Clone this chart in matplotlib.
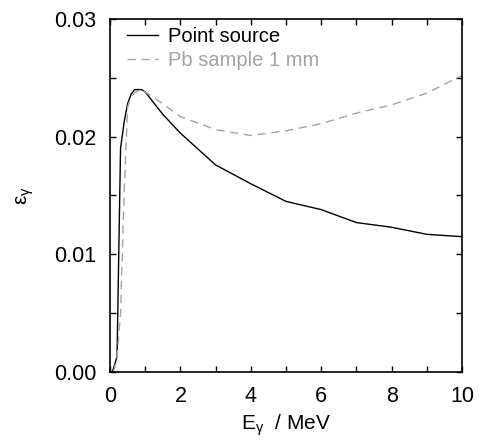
import matplotlib
matplotlib.use('Agg')
import matplotlib.pyplot as plt
from matplotlib.ticker import MultipleLocator

plt.rcParams['font.family'] = ['Liberation Sans', 'DejaVu Sans']
plt.rcParams['mathtext.fontset'] = 'custom'
plt.rcParams['mathtext.rm'] = 'Liberation Sans'
plt.rcParams['mathtext.it'] = 'Liberation Sans'

# Point source (black)
e_point = [0.06, 0.1, 0.2, 0.3, 0.4, 0.5, 0.6, 0.7, 0.8, 0.9, 1.0, 1.5, 2, 3, 4, 5, 6, 7, 8, 9, 10]
eff_point = [0.0, 0.0003, 0.0013, 0.0190, 0.0212, 0.0228, 0.0236, 0.0240, 0.0240, 0.0240, 0.0238,
             0.0219, 0.0203, 0.0176, 0.0160, 0.0145, 0.0138, 0.0127, 0.0123, 0.0117, 0.0115]

# Pb sample 1 mm (grey dashed)
e_pb = [0.1, 0.2, 0.3, 0.4, 0.5, 0.6, 0.7, 0.8, 0.9, 1.0, 1.5, 2, 3, 4, 5, 6, 7, 8, 9, 10]
eff_pb = [0.0, 0.0012, 0.0050, 0.0150, 0.0225, 0.0234, 0.0237, 0.0239, 0.0240, 0.0238,
          0.0228, 0.0217, 0.0206, 0.0201, 0.0205, 0.0211, 0.0220, 0.0227, 0.0237, 0.0252]

fig = plt.figure(figsize=(4.83, 4.43), dpi=100)
ax = fig.add_axes([0.2277, 0.1603, 0.7288, 0.7968])

ax.plot(e_point, eff_point, color='black', lw=1.0, label='Point source')
ax.plot(e_pb, eff_pb, color='#a3a3a3', lw=1.0, ls=(0, (6, 4)), label='Pb sample 1 mm')

ax.set_xlim(0, 10)
ax.set_ylim(0, 0.03)
ax.xaxis.set_major_locator(MultipleLocator(2))
ax.xaxis.set_minor_locator(MultipleLocator(1))
ax.yaxis.set_major_locator(MultipleLocator(0.01))
ax.yaxis.set_minor_locator(MultipleLocator(0.005))
ax.yaxis.set_major_formatter(plt.FormatStrFormatter('%.2f'))
ax.tick_params(which='both', direction='in', top=True, right=True, length=4, width=1)
ax.tick_params(which='major', labelsize=15.5, pad=10)
for s in ax.spines.values():
    s.set_linewidth(1.2)

ax.set_xlabel(r'E$_\gamma$  / MeV', fontsize=15, labelpad=4)
ax.set_ylabel(r'$\varepsilon_\gamma$', fontsize=15, labelpad=13)

ax.legend(loc='upper left', bbox_to_anchor=(0.026, 1.0), frameon=False, fontsize=14.5,
          handlelength=1.55, labelcolor='linecolor', borderaxespad=0.1, handletextpad=0.5,
          labelspacing=0.25, borderpad=0.3)

fig.savefig('out.png', dpi=100)
